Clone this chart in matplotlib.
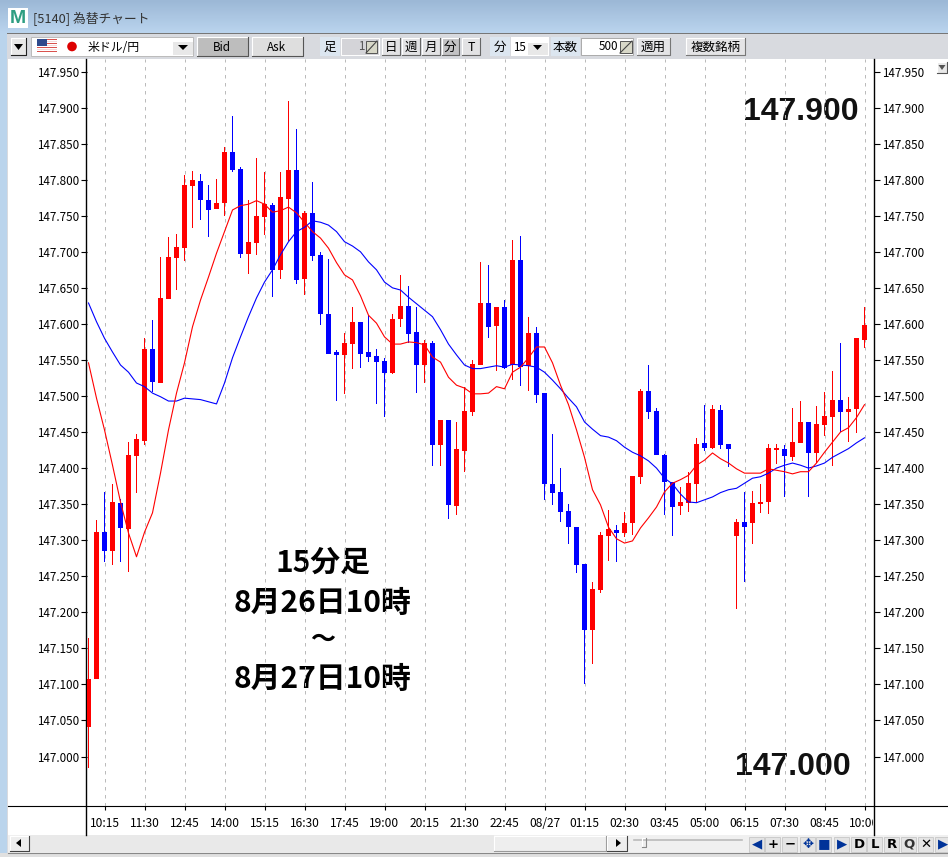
import numpy as np
import matplotlib
matplotlib.use("Agg")
import matplotlib.pyplot as plt
from matplotlib.patches import Rectangle, Circle, Polygon
from matplotlib.transforms import Bbox

plt.rcParams['font.family'] = ['Noto Sans CJK JP', 'DejaVu Sans']

# ---------- data ----------
OPEN = [147.041,147.107,147.311,147.285,147.352,147.316,147.417,147.438,147.565,147.518,
        147.635,147.691,147.705,147.791,147.798,147.772,147.759,147.768,147.838,147.815,
        147.697,147.712,147.748,147.765,147.675,147.773,147.814,147.662,147.754,147.696,
        147.614,147.561,147.557,147.572,147.603,147.561,147.555,147.549,147.532,147.607,
        147.625,147.589,147.543,147.574,147.432,147.467,147.347,147.424,147.478,147.543,
        147.629,147.597,147.623,147.543,147.689,147.542,147.587,147.504,147.378,147.367,
        147.340,147.318,147.267,147.175,147.231,147.306,147.314,147.310,147.324,147.388,
        147.507,147.479,147.418,147.381,147.347,147.352,147.378,147.435,147.428,147.481,
        147.433,147.306,147.325,147.324,147.350,147.353,147.425,147.427,147.415,147.435,
        147.464,147.421,147.460,147.471,147.495,147.478,147.482,147.578]
HIGH = [147.165,147.328,147.367,147.378,147.357,147.436,147.447,147.581,147.605,147.693,
        147.721,147.725,147.807,147.812,147.808,147.793,147.801,147.845,147.888,147.818,
        147.772,147.830,147.811,147.768,147.811,147.909,147.870,147.757,147.797,147.700,
        147.690,147.564,147.587,147.623,147.603,147.612,147.565,147.553,147.614,147.668,
        147.653,147.623,147.578,147.576,147.467,147.467,147.464,147.513,147.550,147.686,
        147.682,147.623,147.633,147.716,147.722,147.610,147.596,147.504,147.447,147.400,
        147.350,147.318,147.267,147.242,147.311,147.342,147.321,147.339,147.389,147.510,
        147.543,147.483,147.420,147.381,147.374,147.395,147.442,147.488,147.488,147.488,
        147.433,147.329,147.367,147.368,147.378,147.433,147.433,147.432,147.483,147.493,
        147.464,147.486,147.506,147.535,147.574,147.499,147.580,147.623]
LOW = [146.984,147.107,147.270,147.266,147.270,147.256,147.366,147.432,147.505,147.518,
       147.635,147.647,147.687,147.733,147.744,147.721,147.759,147.750,147.811,147.691,
       147.669,147.696,147.723,147.637,147.662,147.715,147.655,147.640,147.687,147.599,
       147.558,147.493,147.503,147.538,147.539,147.547,147.489,147.471,147.531,147.596,
       147.574,147.504,147.518,147.403,147.403,147.329,147.335,147.395,147.472,147.543,
       147.580,147.535,147.538,147.522,147.514,147.507,147.490,147.356,147.349,147.325,
       147.295,147.255,147.101,147.128,147.227,147.271,147.270,147.304,147.307,147.378,
       147.468,147.418,147.335,147.306,147.335,147.339,147.352,147.424,147.427,147.427,
       147.402,147.205,147.242,147.295,147.338,147.336,147.406,147.360,147.410,147.435,
       147.360,147.407,147.445,147.403,147.450,147.436,147.449,147.567]
CLOSE = [147.108,147.311,147.285,147.353,147.317,147.418,147.440,147.565,147.519,147.636,
         147.693,147.707,147.793,147.800,147.772,147.758,147.768,147.838,147.814,147.697,
         147.714,147.750,147.766,147.675,147.776,147.814,147.661,147.754,147.694,147.614,
         147.558,147.557,147.574,147.603,147.558,147.554,147.547,147.532,147.607,147.625,
         147.586,147.543,147.574,147.432,147.467,147.349,147.427,147.479,147.544,147.629,
         147.596,147.623,147.539,147.689,147.540,147.587,147.501,147.378,147.366,147.339,
         147.318,147.266,147.175,147.232,147.307,147.316,147.310,147.324,147.389,147.507,
         147.478,147.418,147.381,147.346,147.353,147.379,147.433,147.428,147.482,147.432,
         147.427,147.325,147.318,147.352,147.353,147.428,147.428,147.417,147.436,147.464,
         147.421,147.461,147.472,147.495,147.478,147.482,147.580,147.599]
MA_RED = [147.546,147.497,147.453,147.404,147.353,147.310,147.277,147.311,147.338,147.393,
          147.453,147.504,147.546,147.596,147.633,147.665,147.698,147.728,147.758,147.764,
          147.766,147.771,147.766,147.755,147.757,147.762,147.754,147.741,147.728,147.719,
          147.705,147.685,147.668,147.661,147.639,147.612,147.601,147.582,147.572,147.572,
          147.575,147.574,147.571,147.554,147.547,147.526,147.515,147.511,147.503,147.503,
          147.504,147.513,147.510,147.533,147.540,147.553,147.568,147.568,147.546,147.515,
          147.488,147.453,147.415,147.370,147.349,147.318,147.302,147.296,147.299,147.317,
          147.331,147.346,147.367,147.379,147.384,147.390,147.404,147.411,147.421,147.413,
          147.407,147.399,147.393,147.393,147.393,147.399,147.397,147.395,147.392,147.395,
          147.395,147.407,147.422,147.436,147.450,147.456,147.470,147.488]
MA_BLUE = [147.629,147.603,147.580,147.561,147.543,147.533,147.518,147.513,147.504,147.499,
           147.493,147.493,147.497,147.496,147.495,147.492,147.489,147.518,147.553,147.582,
           147.610,147.636,147.658,147.675,147.696,147.714,147.728,147.734,147.743,147.741,
           147.737,147.728,147.714,147.708,147.700,147.686,147.675,147.658,147.650,147.647,
           147.637,147.628,147.619,147.610,147.592,147.572,147.557,147.543,147.538,147.538,
           147.540,147.542,147.540,147.544,147.543,147.542,147.540,147.533,147.522,147.510,
           147.497,147.485,147.464,147.454,147.445,147.443,147.438,147.429,147.422,147.417,
           147.410,147.400,147.386,147.378,147.364,147.353,147.352,147.356,147.360,147.366,
           147.370,147.372,147.379,147.386,147.388,147.393,147.400,147.404,147.407,147.404,
           147.400,147.403,147.407,147.415,147.421,147.427,147.435,147.442]
Y_TICKS = [147.000,147.050,147.100,147.150,147.200,147.250,147.300,147.350,147.400,147.450,
           147.500,147.550,147.600,147.650,147.700,147.750,147.800,147.850,147.900,147.950]
X_TICK_LABELS = ['10:15','11:30','12:45','14:00','15:15','16:30','17:45','19:00','20:15','21:30',
                 '22:45','08/27','01:15','02:30','03:45','05:00','06:15','07:30','08:45','10:00']
FIRST_TICK, TICK_STEP = 2, 5

# ---------- figure + window chrome (pixel coordinates) ----------
W, H = 948, 857
fig = plt.figure(figsize=(W/100, H/100), dpi=100, facecolor='#D8DADF')
ch = fig.add_axes([0, 0, 1, 1], zorder=0)
ch.set_xlim(0, W); ch.set_ylim(H, 0); ch.axis('off')

def rect(x0, y0, x1, y1, fc, ec='none', lw=0.7, z=1):
    ch.add_patch(Rectangle((x0, y0), x1-x0, y1-y0, fc=fc, ec=ec, lw=lw, zorder=z))

def txt(x, y, s, size=9, ha='center', color='black', weight='normal', family=None, z=3):
    ch.text(x, y, s, fontsize=size, ha=ha, va='center', color=color, weight=weight,
            family=family if family else ['Noto Sans CJK JP', 'DejaVu Sans'], zorder=z)

def button(x0, y0, x1, y1, fc='#E4E4E6', dark='#777777'):
    rect(x0, y0, x1, y1, fc, z=1)
    ch.plot([x0, x0, x1], [y1, y0, y0], color='white', lw=0.8, zorder=2)
    ch.plot([x0, x1, x1], [y1, y1, y0], color=dark, lw=0.8, zorder=2)

def spinner(x0, y0, x1, y1):
    rect(x0, y0, x1, y1, '#D8D8C8', ec='#555555', z=2)
    ch.plot([x0, x1], [y1, y0], color='#444444', lw=0.8, zorder=2.5)

grad = np.linspace(0, 1, 34)[:, None]
top_c, bot_c = np.array([156, 184, 214])/255, np.array([186, 212, 238])/255
ch.imshow((top_c + (bot_c-top_c)*grad[..., None]).reshape(34, 1, 3), extent=(0, W, 33, 0),
          aspect='auto', zorder=0.5, interpolation='bilinear')
ch.set_xlim(0, W); ch.set_ylim(H, 0)
rect(0, 33, 7.5, H, '#BAD4EC', z=0.6)
rect(7.5, 33, W, 34, '#777777', z=0.7)
rect(8, 59, W, 835, 'white', z=0.7)

# title bar
rect(8, 8, 28, 28, 'white')
txt(18, 18, 'M', size=14, color='#2E9E82', weight='bold', family='Liberation Sans')
txt(33, 19, '[5140] 為替チャート', size=9.2, ha='left', color='#333333')

# toolbar
button(11, 38, 26, 55, '#E8E8E8', '#222222')
ch.add_patch(Polygon([[14, 44], [23, 44], [18.5, 50]], fc='black', zorder=3))
rect(31, 37, 193, 56, 'white', ec='#BBBBBB')
for k in range(7):
    rect(37, 39+2*k, 57, 40+2*k, '#D9534F' if k % 2 == 0 else '#F5DADA', z=2)
rect(37, 39, 47, 46, '#2F4A8C', z=2.5)
ch.add_patch(Circle((72, 46.5), 4.8, fc='#DD0000', ec='none', zorder=2))
txt(88, 47, '米ドル/円', size=8.6, ha='left')
rect(173, 42, 193, 55, '#E8E8E8')
ch.add_patch(Polygon([[178, 45], [188, 45], [183, 50]], fc='black', zorder=3))
button(197, 37, 248, 56, '#BDBDBD', '#555555')
txt(222, 47, 'Bid', size=8.4)
button(252, 37, 303, 56, '#DEDEDE', '#555555')
txt(277, 47, 'Ask', size=8.4)
rect(320, 37, 340, 56, '#DCE6F0')
txt(330, 47, '足', size=9)
rect(341, 38, 379, 55, '#D4D4D8', ec='white')
txt(364, 46, '1', size=8.4, ha='right', color='#555555')
spinner(366, 41, 377, 53)
for x0, x1, s, fc in [(382, 400, '日', '#E2E2E4'), (402, 420, '週', '#E2E2E4'), (422, 440, '月', '#E2E2E4'),
                      (442, 459, '分', '#C2C2C4'), (462, 480, 'T', '#E2E2E4')]:
    button(x0, 38, x1, 55, fc, '#666666')
    txt((x0+x1)/2, 47, s, size=9)
rect(490, 37, 510, 56, '#DCE6F0')
txt(500, 47, '分', size=9)
rect(511, 37, 549, 56, 'white')
txt(519, 47, '15', size=8.4, ha='center')
rect(528, 43, 548, 55, '#E8E8E8')
ch.add_patch(Polygon([[533, 45], [542, 45], [537.5, 50]], fc='black', zorder=3))
rect(551, 37, 580, 56, '#DCE6F0')
txt(565.5, 47, '本数', size=9)
rect(581, 38, 633, 55, 'white', ec='#AAAAAA')
txt(618, 46, '500', size=8.4, ha='right')
spinner(620, 41, 632, 53)
button(637, 38, 670, 55)
txt(653.5, 47, '適用', size=9)
button(686, 38, 745, 55)
txt(715.5, 47, '複数銘柄', size=9)

# chart frame lines that run beyond the plotting area
ch.plot([8, W], [806, 806], color='black', lw=0.8, zorder=2)
ch.plot([86.5, 86.5], [59, 835], color='black', lw=1.0, zorder=2)
ch.plot([874, 874], [59, 835], color='black', lw=1.0, zorder=2)
button(937, 62, 947, 73, '#E8E8E8', '#555555')
ch.add_patch(Polygon([[938.5, 65], [945.5, 65], [942, 70]], fc='#555555', zorder=3))

# bottom bar
rect(8, 835, W, 853, '#F0F0F0', z=0.8)
rect(30, 835, 494, 852, '#E9E9E9', z=0.9)
button(10, 836, 29, 851, '#EEEEEE', '#444444')
ch.add_patch(Polygon([[21, 839], [21, 847], [16, 843]], fc='black', zorder=3))
button(494, 836, 606, 851, '#EEEEEE', '#999999')
button(607, 836, 627, 851, '#EEEEEE', '#444444')
ch.add_patch(Polygon([[616, 839], [616, 847], [621, 843]], fc='black', zorder=3))
ch.plot([634, 742], [840, 840], color='#BBBBBB', lw=1.2, zorder=2)
button(642, 838, 646, 847, '#EEEEEE', '#888888')
for x, s, c in [(757, '◀', '#003399'), (773, '+', 'black'), (790, '−', 'black'), (808, '✥', '#003399'),
                (824, '■', '#003399'), (842, '▶', '#003399'), (859, 'D', 'black'), (875, 'L', 'black'),
                (892, 'R', 'black'), (909, 'Q', '#333333'), (926, '✕', 'black'), (943, '▶', '#003399')]:
    rect(x-8, 837, x+7.5, 852, '#E4E4E4', ec='#CCCCCC', z=1)
    txt(x, 844, s, size=9.5, weight='bold', color=c, family='DejaVu Sans')
rect(0, 853, W, 857, '#E0E0E0', z=1)
ch.plot([8, W], [853, 853], color='#888888', lw=0.8, zorder=2)

# annotations
txt(801, 112, '147.900', size=23, weight='bold', family='Liberation Sans', color='#111111')
txt(793, 767, '147.000', size=23, weight='bold', family='Liberation Sans', color='#111111')
txt(323, 563, '15分足', size=21.5, weight='bold')
txt(323, 603, '8月26日10時', size=21.5, weight='bold')
txt(323, 640, '～', size=18, weight='bold')
txt(323, 679, '8月27日10時', size=21.5, weight='bold')

# ---------- chart ----------
ax = fig.add_axes([87/W, 1-806/H, (874-87)/W, (806-59)/H], zorder=1)
ax.patch.set_visible(False)
for s in ax.spines.values():
    s.set_visible(False)

n = len(OPEN)
idx = np.arange(n)
o, hi, lo, c = map(np.array, (OPEN, HIGH, LOW, CLOSE))
colors = np.where(c >= o, '#FF0000', '#0000FF')

tick_pos = FIRST_TICK + TICK_STEP*np.arange(len(X_TICK_LABELS))
ax.vlines(tick_pos, 0, 1, transform=ax.get_xaxis_transform(), color='#BBBBBB', lw=0.72,
          linestyles=(0, (3.5, 4.5)), zorder=1)
ax.bar(idx, hi-lo, bottom=lo, width=0.12, color=colors, linewidth=0, zorder=2, antialiased=False)
ax.bar(idx, np.abs(c-o), bottom=np.minimum(o, c), width=0.64, color=colors, linewidth=0,
       zorder=3, antialiased=False)
ax.plot(idx, MA_BLUE, color='#0000FF', lw=0.8, zorder=4)
ax.plot(idx, MA_RED, color='#FF0000', lw=0.8, zorder=4)

ax.set_xlim((87-88.5)/8, (874-88.5)/8)
ax.set_ylim(147-(806-756.5)/721, 147+(756.5-59)/721)
ax.set_yticks(Y_TICKS)
ax.set_yticklabels([f'{v:.3f}' for v in Y_TICKS])
ax.set_xticks(tick_pos)
ax.set_xticklabels(X_TICK_LABELS)
ax.tick_params(axis='y', left=True, right=True, labelleft=True, labelright=True,
               length=4.3, width=0.8, pad=1.2, labelsize=8.4)
ax.tick_params(axis='x', length=2.9, width=0.8, pad=4.8, labelsize=8.6)
for lab in ax.get_xticklabels():
    lab.set_clip_on(True)
    lab.set_clip_box(Bbox([[0, 0], [873, H]]))

fig.savefig('out.png', dpi=100, facecolor=fig.get_facecolor())
